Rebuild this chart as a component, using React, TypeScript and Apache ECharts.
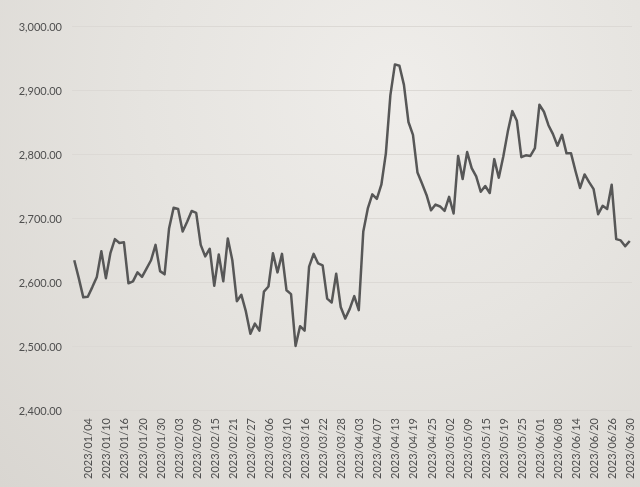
import React, { useEffect, useRef } from "react";
import * as echarts from "echarts";

const dates: string[] = [
  "2022/12/29", "2023/01/02", "2023/01/03", "2023/01/04", "2023/01/05", "2023/01/06", "2023/01/09", "2023/01/10",
  "2023/01/11", "2023/01/12", "2023/01/13", "2023/01/16", "2023/01/17", "2023/01/18", "2023/01/19", "2023/01/20",
  "2023/01/25", "2023/01/26", "2023/01/27", "2023/01/30", "2023/01/31", "2023/02/01", "2023/02/02", "2023/02/03",
  "2023/02/06", "2023/02/07", "2023/02/08", "2023/02/09", "2023/02/10", "2023/02/13", "2023/02/14", "2023/02/15",
  "2023/02/16", "2023/02/17", "2023/02/20", "2023/02/21", "2023/02/22", "2023/02/23", "2023/02/24", "2023/02/27",
  "2023/02/28", "2023/03/02", "2023/03/03", "2023/03/06", "2023/03/07", "2023/03/08", "2023/03/09", "2023/03/10",
  "2023/03/13", "2023/03/14", "2023/03/15", "2023/03/16", "2023/03/17", "2023/03/20", "2023/03/21", "2023/03/22",
  "2023/03/23", "2023/03/24", "2023/03/27", "2023/03/28", "2023/03/29", "2023/03/30", "2023/03/31", "2023/04/03",
  "2023/04/04", "2023/04/05", "2023/04/06", "2023/04/07", "2023/04/10", "2023/04/11", "2023/04/12", "2023/04/13",
  "2023/04/14", "2023/04/17", "2023/04/18", "2023/04/19", "2023/04/20", "2023/04/21", "2023/04/24", "2023/04/25",
  "2023/04/26", "2023/04/27", "2023/04/28", "2023/05/02", "2023/05/03", "2023/05/04", "2023/05/08", "2023/05/09",
  "2023/05/10", "2023/05/11", "2023/05/12", "2023/05/15", "2023/05/16", "2023/05/17", "2023/05/18", "2023/05/19",
  "2023/05/22", "2023/05/23", "2023/05/24", "2023/05/25", "2023/05/26", "2023/05/30", "2023/05/31", "2023/06/01",
  "2023/06/02", "2023/06/05", "2023/06/07", "2023/06/08", "2023/06/09", "2023/06/12", "2023/06/13", "2023/06/14",
  "2023/06/15", "2023/06/16", "2023/06/19", "2023/06/20", "2023/06/21", "2023/06/22", "2023/06/23", "2023/06/26",
  "2023/06/27", "2023/06/28", "2023/06/29", "2023/06/30",
];

const values: number[] = [
  2634, 2606, 2576, 2577, 2592, 2608, 2648, 2606,
  2645, 2667, 2661, 2662, 2598, 2601, 2615, 2608,
  2621, 2634, 2658, 2617, 2612, 2684, 2716, 2714,
  2679, 2694, 2711, 2708, 2658, 2640, 2652, 2594,
  2643, 2601, 2668, 2634, 2570, 2580, 2554, 2519,
  2535, 2524, 2585, 2593, 2645, 2615, 2644, 2587,
  2581, 2500, 2531, 2524, 2624, 2644, 2629, 2626,
  2574, 2568, 2613, 2561, 2543, 2558, 2578, 2556,
  2679, 2715, 2737, 2730, 2752, 2801, 2892, 2940,
  2938, 2908, 2850, 2830, 2771, 2754, 2736, 2712,
  2721, 2718, 2711, 2733, 2707, 2797, 2761, 2803,
  2778, 2765, 2741, 2750, 2739, 2792, 2763, 2796,
  2835, 2867, 2852, 2795, 2798, 2797, 2809, 2877,
  2866, 2845, 2831, 2813, 2830, 2801, 2801, 2773,
  2747, 2768, 2756, 2745, 2706, 2719, 2714, 2752,
  2667, 2665, 2656, 2664,
];

const yMin = 2400;
const yMax = 3000;
const yStep = 100;

function fmt(v: number): string {
  const s = v.toFixed(2);
  const [intPart, dec] = s.split(".");
  return intPart.replace(/\B(?=(\d{3})+(?!\d))/g, ",") + "." + dec;
}

export default function App() {
  const ref = useRef<HTMLDivElement>(null);
  useEffect(() => {
    if (!ref.current) return;
    const chart = echarts.init(ref.current, undefined, { renderer: "svg" });
    chart.setOption({
      animation: false,
      backgroundColor: "transparent",
      grid: { left: 72, right: 8, top: 26, bottom: 77, containLabel: false },
      xAxis: {
        type: "category",
        data: dates,
        boundaryGap: true,
        axisLine: { show: false },
        axisTick: { show: false },
        axisLabel: {
          rotate: 90,
          margin: 8,
          interval: (i: number) => i % 4 === 3,
          color: "#4f4f4f",
          fontSize: 11,
          fontFamily: "Lato",
        },
        splitLine: { show: false },
      },
      yAxis: {
        type: "value",
        min: yMin,
        max: yMax,
        interval: yStep,
        axisLine: { show: false },
        axisTick: { show: false },
        axisLabel: {
          margin: 10,
          color: "#4f4f4f",
          fontSize: 11,
          fontFamily: "Lato",
          formatter: (v: number) => fmt(v),
        },
        splitLine: { lineStyle: { color: "#dcd9d5", width: 1 } },
      },
      series: [
        {
          type: "line",
          data: values,
          showSymbol: false,
          symbol: "none",
          lineStyle: { color: "#575757", width: 2.5, join: "round" },
        },
      ],
    });
    return () => chart.dispose();
  }, []);
  return (
    <div
      style={{
        position: "fixed",
        left: 0,
        top: 0,
        width: 640,
        height: 487,
        background:
          "radial-gradient(ellipse at 62% 18%, #efedea 0%, #e6e4e0 45%, #d9d6d1 100%)",
      }}
    >
      <div ref={ref} style={{ width: 640, height: 487 }} />
    </div>
  );
}
